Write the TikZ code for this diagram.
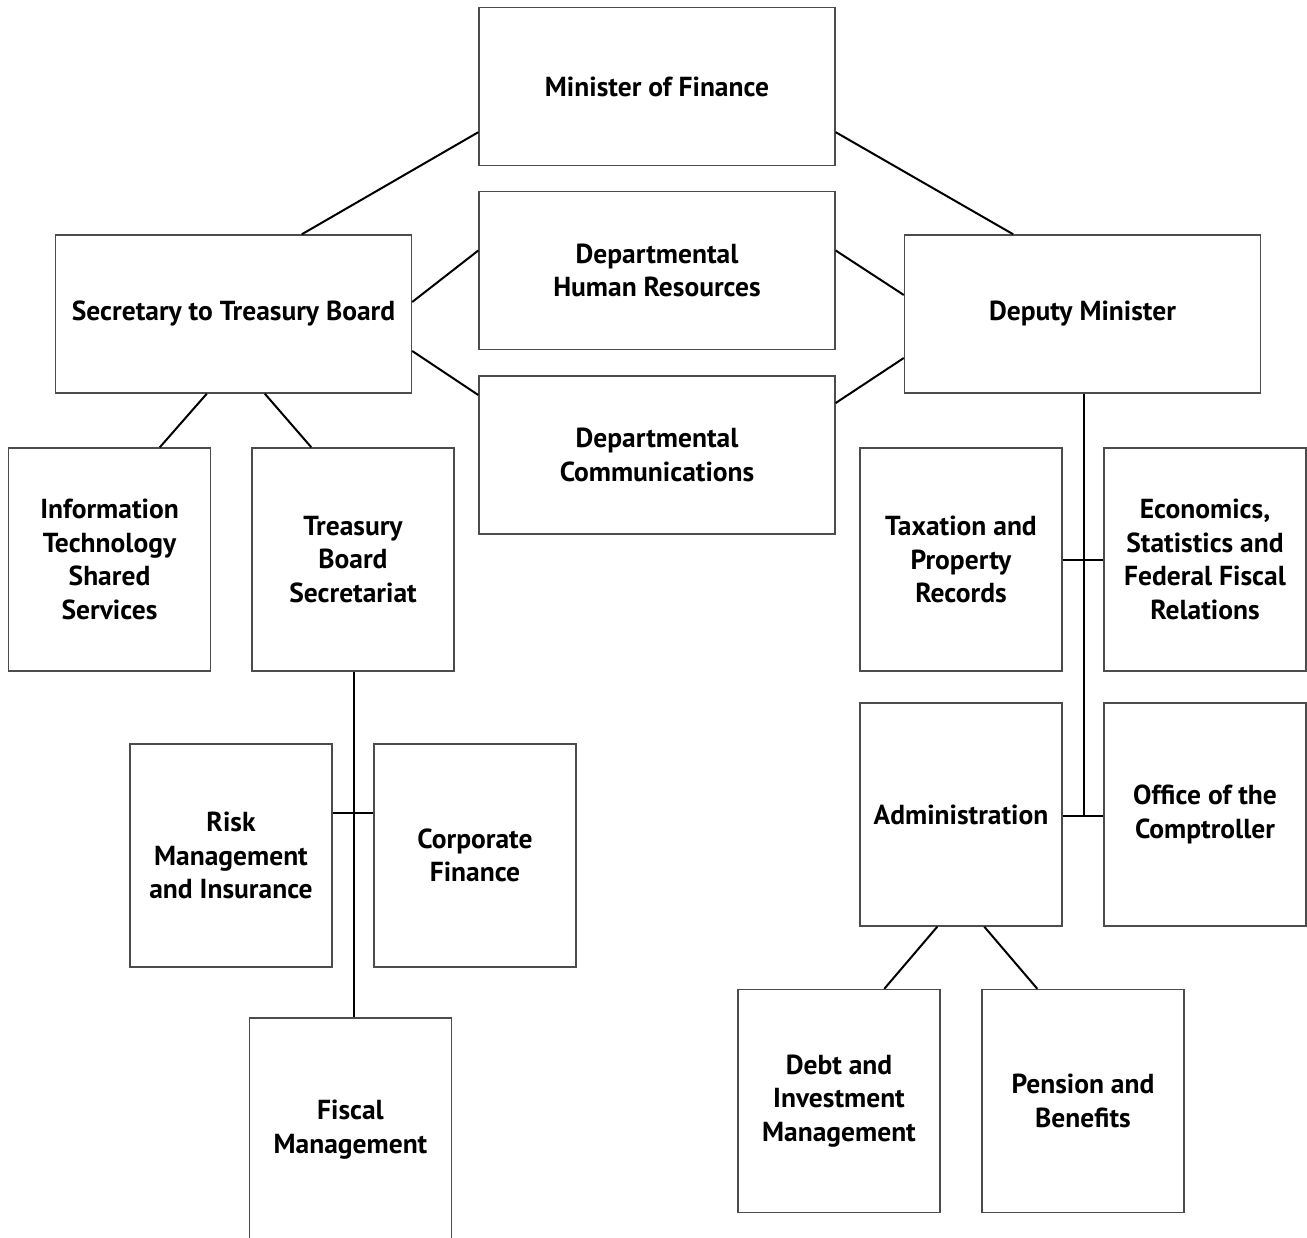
\documentclass[tikz,border=0pt]{standalone}
\usepackage{fontspec}
\setmainfont{PT Sans}
\usetikzlibrary{calc}
\begin{document}
\begin{tikzpicture}[x=1pt,y=-1pt,
  box/.style={draw=black!70,line width=1.4pt,rectangle,inner sep=0pt,
    align=center,font=\bfseries\fontsize{27.5}{33.5}\selectfont},
  wide/.style={box,minimum width=356pt,minimum height=158pt},
  tall/.style={box,minimum width=202pt,minimum height=223pt},
  conn/.style={draw=black,line width=2pt}]
\clip (0,0) rectangle (1307,1238);
\fill[white] (0,0) rectangle (1307,1238);
% top row
\node[wide] (min) at (657,86.5) {Minister of Finance};
\node[wide] (sec) at (233.5,314) {Secretary to Treasury Board};
\node[wide] (dhr) at (657,270.5) {Departmental\\Human Resources};
\node[wide] (dep) at (1082.5,314) {Deputy Minister};
\node[wide] (dc) at (657,455) {Departmental\\Communications};
% second row
\node[tall] (it) at (109.5,559.5) {Information\\Technology\\Shared\\Services};
\node[tall] (tbs) at (353,559.5) {Treasury\\Board\\Secretariat};
\node[tall] (tax) at (961,559.5) {Taxation and\\Property\\Records};
\node[tall] (eco) at (1205,559.5) {Economics,\\Statistics and\\Federal Fiscal\\Relations};
% third row
\node[tall] (risk) at (231,855.5) {Risk\\Management\\and Insurance};
\node[tall] (corp) at (475,855.5) {Corporate\\Finance};
\node[tall] (adm) at (961,814.5) {Administration};
\node[tall] (off) at (1205,814.5) {Office of the\\Comptroller};
% bottom row
\node[tall] (fis) at (350.5,1129.5) {Fiscal\\Management};
\node[tall] (debt) at (839,1101) {Debt and\\Investment\\Management};
\node[tall] (pen) at (1083,1101) {Pension and\\Benefits};
% junction coordinates
\coordinate (tj) at (354,813);
\coordinate (dj1) at (1084,560);
\coordinate (dj2) at (1084,816);
% connectors
\draw[conn] ([yshift=34pt]min.south west) -- ([xshift=247pt]sec.north west);
\draw[conn] ([yshift=34pt]min.south east) -- ([xshift=-248pt]dep.north east);
\draw[conn] ([yshift=12pt]sec.east) -- ([yshift=20pt]dhr.west);
\draw[conn] ([yshift=-37pt]sec.east) -- ([yshift=60pt]dc.west);
\draw[conn] ([yshift=20pt]dhr.east) -- ([yshift=19pt]dep.west);
\draw[conn] ([yshift=52pt]dc.east) -- ([yshift=-44pt]dep.west);
\draw[conn] ([xshift=152pt]sec.south west) -- ([xshift=152pt]it.north west);
\draw[conn] ([xshift=210pt]sec.south west) -- ([xshift=60pt]tbs.north west);
\draw[conn] (tbs.south -| tj) -- (fis.north -| tj);
\draw[conn] (risk.east |- tj) -- (corp.west |- tj);
\draw[conn] (dep.south -| dj1) -- (dj2);
\draw[conn] (tax.east |- dj1) -- (eco.west |- dj1);
\draw[conn] (adm.east |- dj2) -- (off.west |- dj2);
\draw[conn] ([xshift=78pt]adm.south west) -- ([xshift=147pt]debt.north west);
\draw[conn] ([xshift=125pt]adm.south west) -- ([xshift=56pt]pen.north west);
\end{tikzpicture}
\end{document}
